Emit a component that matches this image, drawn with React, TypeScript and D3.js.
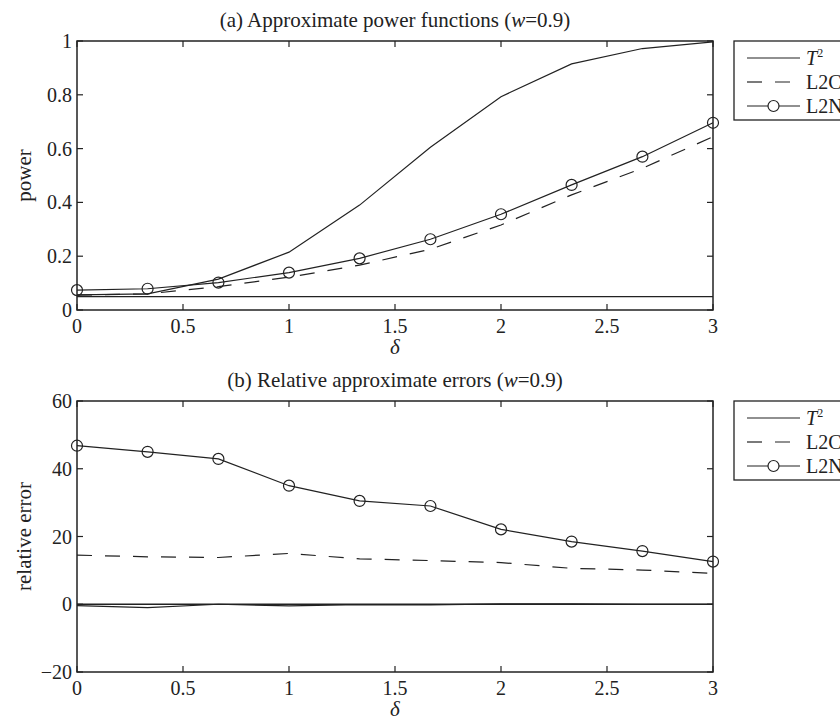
import React from 'react';
import * as d3 from 'd3';

// delta values (x axis)
const deltas = [0, 0.333, 0.667, 1, 1.333, 1.667, 2, 2.333, 2.667, 3];
const xTicks = [0, 0.5, 1, 1.5, 2, 2.5, 3];

// (a) power
const powerT2 = [0.056, 0.06, 0.115, 0.215, 0.39, 0.605, 0.793, 0.915, 0.972, 0.997];
const powerL2C = [0.055, 0.06, 0.087, 0.122, 0.167, 0.226, 0.316, 0.428, 0.527, 0.644];
const powerL2N = [0.074, 0.079, 0.102, 0.139, 0.192, 0.263, 0.356, 0.465, 0.57, 0.696];
const powerRef = 0.05;
const powerTicks = [0, 0.2, 0.4, 0.6, 0.8, 1];

// (b) relative errors
const errT2 = [-0.4, -1.0, 0, -0.5, -0.1, -0.2, 0.1, 0.1, 0, 0];
const errL2C = [14.5, 14.0, 13.8, 15.0, 13.4, 12.9, 12.3, 10.6, 10.1, 9.1];
const errL2N = [46.8, 45.0, 42.9, 35.0, 30.5, 29.0, 22.1, 18.5, 15.7, 12.6];
const errRef = 0;
const errTicks = [-20, 0, 20, 40, 60];

const legendNames = ['T', 'L2C', 'L2N'];

const FONT = '"Liberation Serif", "DejaVu Serif", serif';
const INK = '#222';

function fmt(v) {
  if (v < 0) return '\u2212' + Math.abs(v);
  return String(v);
}

function Panel({ top, bottom, domain, yTicks, t2, l2c, l2n, refVal, title, yLabel }) {
  const left = 77, right = 713;
  const x = d3.scaleLinear().domain([0, 3]).range([left, right]);
  const y = d3.scaleLinear().domain(domain).range([bottom, top]);
  const line = d3.line<number>().x((d, i) => x(deltas[i])).y(d => y(d));
  const tl = 6;
  const midX = (left + right) / 2;

  return (
    <g>
      <text x={midX} y={top - 14} textAnchor="middle" fontSize={21} fill={INK} fontFamily={FONT}>
        {title} (<tspan fontStyle="italic">w</tspan>=0.9)
      </text>
      {/* reference line */}
      <line x1={x(0)} x2={x(3)} y1={y(refVal)} y2={y(refVal)} stroke={INK} strokeWidth={1.3} />
      <path d={line(t2) || ''} fill="none" stroke={INK} strokeWidth={1.2} />
      <path d={line(l2c) || ''} fill="none" stroke={INK} strokeWidth={1.2} strokeDasharray="15,13" />
      <path d={line(l2n) || ''} fill="none" stroke={INK} strokeWidth={1.2} />
      {l2n.map((v, i) => (
        <circle key={i} cx={x(deltas[i])} cy={y(v)} r={5.5} fill="none" stroke={INK} strokeWidth={1.2} />
      ))}
      {/* axes box */}
      <rect x={left} y={top} width={right - left} height={bottom - top} fill="none" stroke={INK} strokeWidth={1.5} />
      {xTicks.map(t => (
        <g key={'x' + t}>
          <line x1={x(t)} x2={x(t)} y1={bottom} y2={bottom - tl} stroke={INK} strokeWidth={1.2} />
          <line x1={x(t)} x2={x(t)} y1={top} y2={top + tl} stroke={INK} strokeWidth={1.2} />
          <text x={x(t)} y={bottom + 23} textAnchor="middle" fontSize={20} fill={INK} fontFamily={FONT}>{t}</text>
        </g>
      ))}
      {yTicks.map(t => (
        <g key={'y' + t}>
          <line x1={left} x2={left + tl} y1={y(t)} y2={y(t)} stroke={INK} strokeWidth={1.2} />
          <line x1={right} x2={right - tl} y1={y(t)} y2={y(t)} stroke={INK} strokeWidth={1.2} />
          <text x={left - 5} y={y(t) + 7} textAnchor="end" fontSize={20} fill={INK} fontFamily={FONT}>{fmt(t)}</text>
        </g>
      ))}
      <text x={midX} y={bottom + 44} textAnchor="middle" fontSize={21} fontStyle="italic" fill={INK} fontFamily={FONT}>δ</text>
      <text transform={`translate(31,${(top + bottom) / 2}) rotate(-90)`} textAnchor="middle" fontSize={21} fill={INK} fontFamily={FONT}>{yLabel}</text>
      {/* legend */}
      <g transform={`translate(734,${top})`}>
        <rect x={0} y={0} width={140} height={79} fill="white" stroke={INK} strokeWidth={1.3} />
        {legendNames.map((n, i) => {
          const ly = 17 + i * 24;
          return (
            <g key={n}>
              <line x1={13} x2={66} y1={ly} y2={ly} stroke={INK} strokeWidth={1.2} strokeDasharray={i === 1 ? '15,13' : undefined} />
              {i === 2 && <circle cx={39.5} cy={ly} r={5.5} fill="white" stroke={INK} strokeWidth={1.2} />}
              <text x={72} y={ly + 7} fontSize={20} fill={INK} fontFamily={FONT}>
                {i === 0 ? (<><tspan fontStyle="italic">T</tspan><tspan fontSize={12} dy={-8}>2</tspan></>) : n}
              </text>
            </g>
          );
        })}
      </g>
    </g>
  );
}

export default function App() {
  return (
    <svg width={840} height={722} style={{ position: 'absolute', left: 0, top: 0, background: 'white' }}>
      <Panel top={41} bottom={310} domain={[0, 1]} yTicks={powerTicks} t2={powerT2} l2c={powerL2C} l2n={powerL2N}
        refVal={powerRef} title="(a) Approximate power functions" yLabel="power" />
      <Panel top={401} bottom={672} domain={[-20, 60]} yTicks={errTicks} t2={errT2} l2c={errL2C} l2n={errL2N}
        refVal={errRef} title="(b) Relative approximate errors" yLabel="relative error" />
    </svg>
  );
}
